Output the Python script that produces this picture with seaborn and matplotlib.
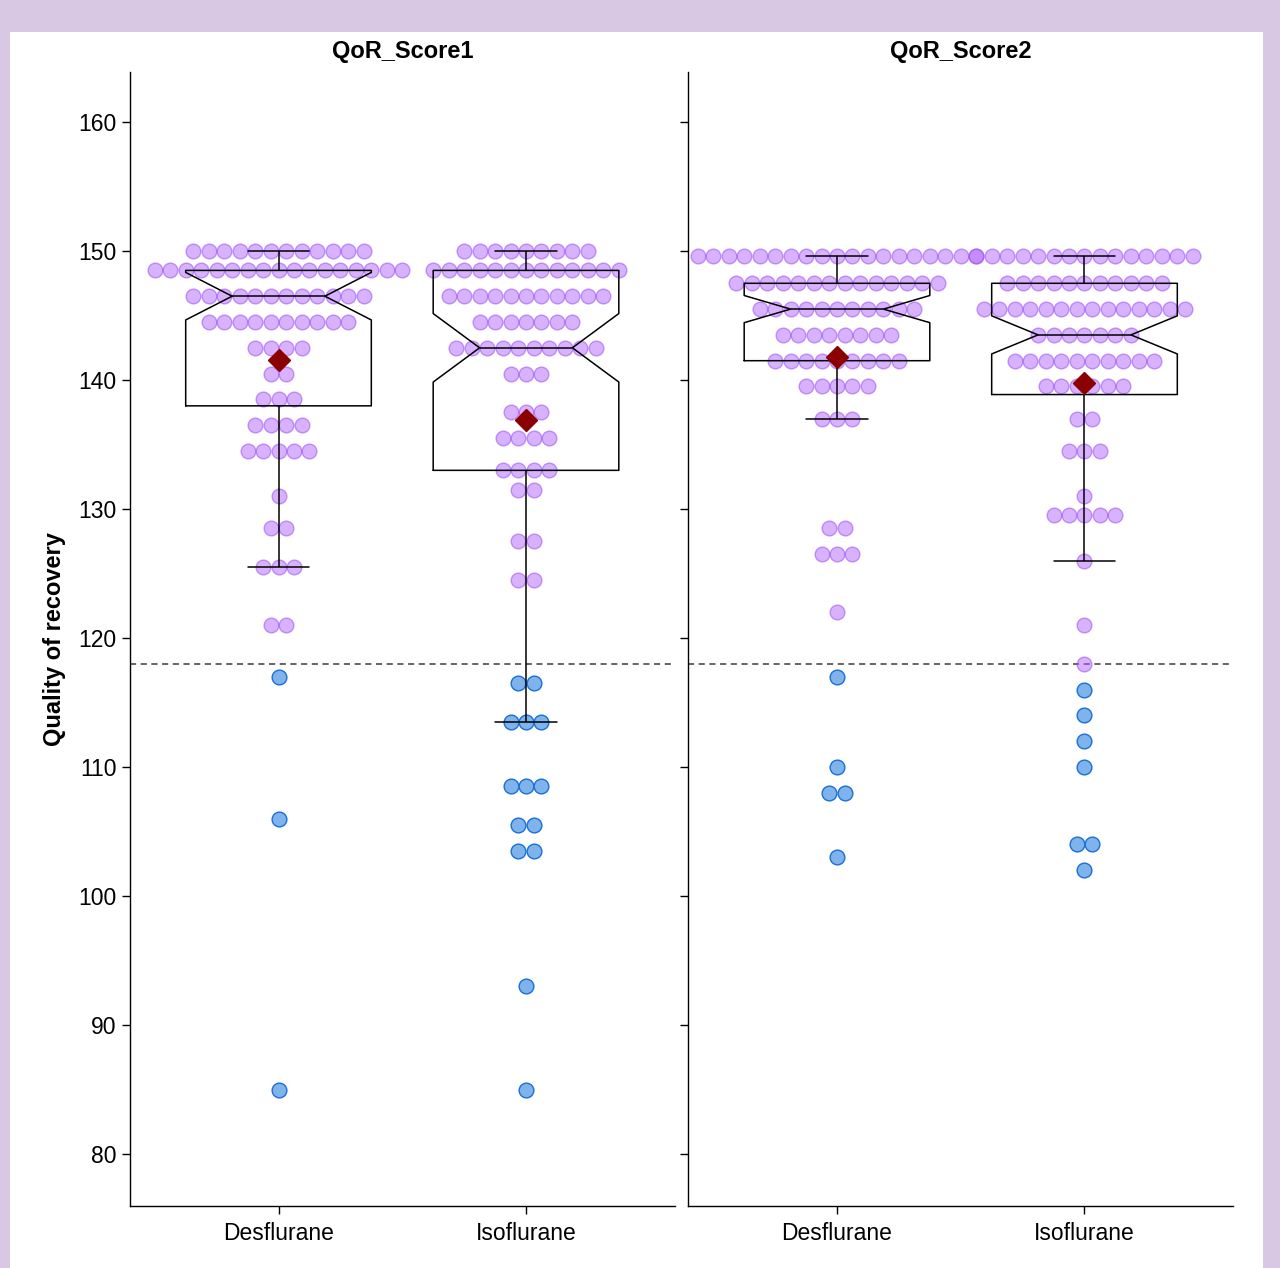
import numpy as np
import pandas as pd
import matplotlib
matplotlib.use("Agg")
import matplotlib.pyplot as plt
import seaborn as sns
from matplotlib.patches import Rectangle

# ---------------- data ----------------
scores = ["QoR_Score1", "QoR_Score2"]
groups = ["Desflurane", "Isoflurane"]

s1_desf_vals = [150, 148.5, 146.5, 144.5, 142.5, 140.5, 138.5, 136.5, 134.5,
                131, 128.5, 125.5, 121, 117, 106, 85]
s1_desf_counts = [12, 17, 12, 10, 4, 2, 3, 4, 5, 1, 2, 3, 2, 1, 1, 1]

s1_iso_vals = [150, 148.5, 146.5, 144.5, 142.5, 140.5, 137.5, 135.5, 133,
               131.5, 127.5, 124.5, 116.5, 113.5, 108.5, 105.5, 103.5, 93, 85]
s1_iso_counts = [9, 13, 11, 7, 10, 3, 3, 4, 4, 2, 2, 2, 2, 3, 3, 2, 2, 1, 1]

s2_desf_vals = [149.6, 147.5, 145.5, 143.5, 141.5, 139.5, 137, 128.5, 126.5,
                122, 117, 110, 108, 103]
s2_desf_counts = [19, 14, 11, 8, 9, 5, 3, 2, 3, 1, 1, 1, 2, 1]

s2_iso_vals = [149.6, 147.5, 145.5, 143.5, 141.5, 139.5, 137, 134.5, 131,
               129.5, 126, 121, 118, 116, 114, 112, 110, 104, 102]
s2_iso_counts = [15, 11, 14, 7, 10, 6, 2, 3, 1, 5, 1, 1, 1, 1, 1, 1, 1, 2, 1]

threshold = 118
y_ticks = [80, 90, 100, 110, 120, 130, 140, 150, 160]
y_label = "Quality of recovery"

series = {
    ("QoR_Score1", "Desflurane"): (s1_desf_vals, s1_desf_counts),
    ("QoR_Score1", "Isoflurane"): (s1_iso_vals, s1_iso_counts),
    ("QoR_Score2", "Desflurane"): (s2_desf_vals, s2_desf_counts),
    ("QoR_Score2", "Isoflurane"): (s2_iso_vals, s2_iso_counts),
}

# ---------------- style ----------------
sns.set_theme(style="ticks")
plt.rcParams["font.family"] = ["Liberation Sans", "DejaVu Sans"]
plt.rcParams["axes.linewidth"] = 1.0
plt.rcParams["xtick.major.size"] = 5.8
plt.rcParams["ytick.major.size"] = 5.8
plt.rcParams["xtick.major.width"] = 1.0
plt.rcParams["ytick.major.width"] = 1.0
plt.rcParams["xtick.color"] = "black"
plt.rcParams["ytick.color"] = "black"
plt.rcParams["axes.edgecolor"] = "black"
plt.rcParams["text.color"] = "black"
plt.rcParams["axes.labelcolor"] = "black"
plt.rcParams["axes.titlecolor"] = "black"

DOT_STEP = 0.0626  # horizontal spacing of stacked dots (category units)

rows = []
for (score, grp), (vals, cnts) in series.items():
    gi = groups.index(grp)
    for v, k in zip(vals, cnts):
        offs = (np.arange(k) - (k - 1) / 2.0) * DOT_STEP
        for o in offs:
            rows.append(dict(score=score, group=grp, value=v, xpos=gi + o))
df = pd.DataFrame(rows)

fig, axes = plt.subplots(1, 2, figsize=(12.8, 12.68), dpi=100, sharey=True)
fig.patch.set_facecolor("#d9c8e3")
fig.add_artist(Rectangle((10 / 1280, 0), (1263 - 10) / 1280, (1268 - 32) / 1268,
                         transform=fig.transFigure, facecolor="white",
                         edgecolor="none", zorder=-10))
fig.subplots_adjust(left=130 / 1280, right=1233 / 1280,
                    top=1 - 72 / 1268, bottom=1 - 1206 / 1268, wspace=0.0257)

purple_face = (0.70, 0.40, 1.0, 0.5)
purple_edge = (0.60, 0.30, 0.94, 0.55)
blue_face = "#7fb3ec"
blue_edge = "#1a6fd6"

for ax, score in zip(axes, scores):
    sub = df[df["score"] == score]
    sns.boxplot(data=sub, x="group", y="value", order=groups, ax=ax,
                notch=True, showmeans=True, showfliers=False, width=0.75,
                fill=False, color="black", linewidth=1.1, capwidths=0.25,
                meanprops=dict(marker="D", markerfacecolor="#8b0000",
                               markeredgecolor="#8b0000", markersize=11.5,
                               zorder=6))
    hi = sub[sub["value"] >= threshold]
    lo = sub[sub["value"] < threshold]
    sns.scatterplot(data=hi, x="xpos", y="value", ax=ax, s=112,
                    color=purple_face, edgecolor=purple_edge, linewidth=1.0,
                    legend=False, zorder=1)
    sns.scatterplot(data=lo, x="xpos", y="value", ax=ax, s=112,
                    color=blue_face, edgecolor=blue_edge, linewidth=1.0,
                    legend=False, zorder=1)
    ax.axhline(threshold, color="#3a3a3a", linestyle=(0, (4, 3)),
               linewidth=1.1, zorder=0.5)
    ax.set_xlim(-0.6, 1.6)
    ax.set_ylim(75.97, 163.88)
    ax.set_xticks([0, 1])
    ax.set_xticklabels(groups, fontsize=16.5, color="black")
    ax.set_yticks(y_ticks)
    ax.tick_params(axis="y", labelsize=16.5, pad=4, labelcolor="black")
    ax.tick_params(axis="x", pad=6, labelcolor="black")
    ax.set_xlabel("")
    ax.set_ylabel("")
    ax.set_title(score, fontsize=17, fontweight="bold", pad=10, color="black")
    ax.set_facecolor("none")
    sns.despine(ax=ax)

axes[0].set_ylabel(y_label, fontsize=17, fontweight="bold", labelpad=9,
                   color="black")

fig.savefig("out.png", dpi=100, facecolor=fig.get_facecolor())
